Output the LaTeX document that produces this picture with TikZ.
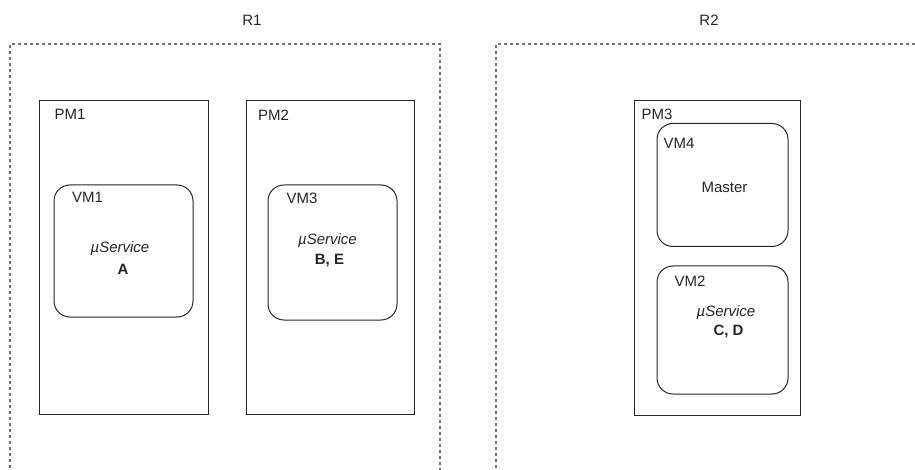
\documentclass[tikz,border=0pt]{standalone}
\usepackage{fontspec}
\setmainfont{Liberation Sans}
\begin{document}
\begin{tikzpicture}[x=1pt,y=-1pt,
  region/.style={draw=black!55, line width=1.6pt, dash pattern=on 3pt off 3pt},
  pmbox/.style={draw=black!85, line width=1pt, rectangle, inner sep=0pt},
  vmbox/.style={draw=black!85, line width=1pt, rectangle, rounded corners=16pt, inner sep=0pt},
  lbl/.style={font=\fontsize{15}{18}\selectfont, inner sep=0pt, text=black!85},
  svc/.style={lbl, font=\fontsize{15}{18}\selectfont\itshape},
  key/.style={lbl, font=\fontsize{15}{18}\selectfont\bfseries}
]
\useasboundingbox (0,0) rectangle (915,470);
\clip (0,0) rectangle (915,470);

% regions (open at the page border)
\draw[region] (10,480) -- (10,44) -- (440,44) -- (440,480);
\draw[region] (496,480) -- (496,44) -- (925,44);
\node[lbl] (r1) at (252,20) {R1};
\node[lbl] (r2) at (709,20) {R2};

% physical machines
\node[pmbox, minimum width=169pt, minimum height=313pt] (pm1) at (123.5,257.5) {};
\node[pmbox, minimum width=168pt, minimum height=313pt] (pm2) at (330,257.5) {};
\node[pmbox, minimum width=166pt, minimum height=314pt] (pm3) at (717,258) {};
\node[lbl] (pm1l) at (70,114) {PM1};
\node[lbl] (pm2l) at (273.5,115) {PM2};
\node[lbl] (pm3l) at (657,114) {PM3};

% virtual machines
\node[vmbox, minimum width=139pt, minimum height=132pt] (vm1) at (123.5,251) {};
\node[vmbox, minimum width=129pt, minimum height=135pt] (vm3) at (332.5,252.5) {};
\node[vmbox, minimum width=131pt, minimum height=123pt] (vm4) at (722.5,185) {};
\node[vmbox, minimum width=131pt, minimum height=128pt] (vm2) at (722.5,330) {};

\node[lbl] (vm1l) at (87.5,197) {VM1};
\node[svc] (s1) at (120,249) {µService};
\node[key] (k1) at (123,269) {A};

\node[lbl] (vm3l) at (302,198) {VM3};
\node[svc] (s3) at (327.5,241) {µService};
\node[key] (k3) at (329.5,261) {B, E};

\node[lbl] (vm4l) at (679,143) {VM4};
\node[lbl] (m4) at (724.5,187) {Master};

\node[lbl] (vm2l) at (690,281) {VM2};
\node[svc] (s2) at (726,313) {µService};
\node[key] (k2) at (728.5,331) {C, D};
\end{tikzpicture}
\end{document}
